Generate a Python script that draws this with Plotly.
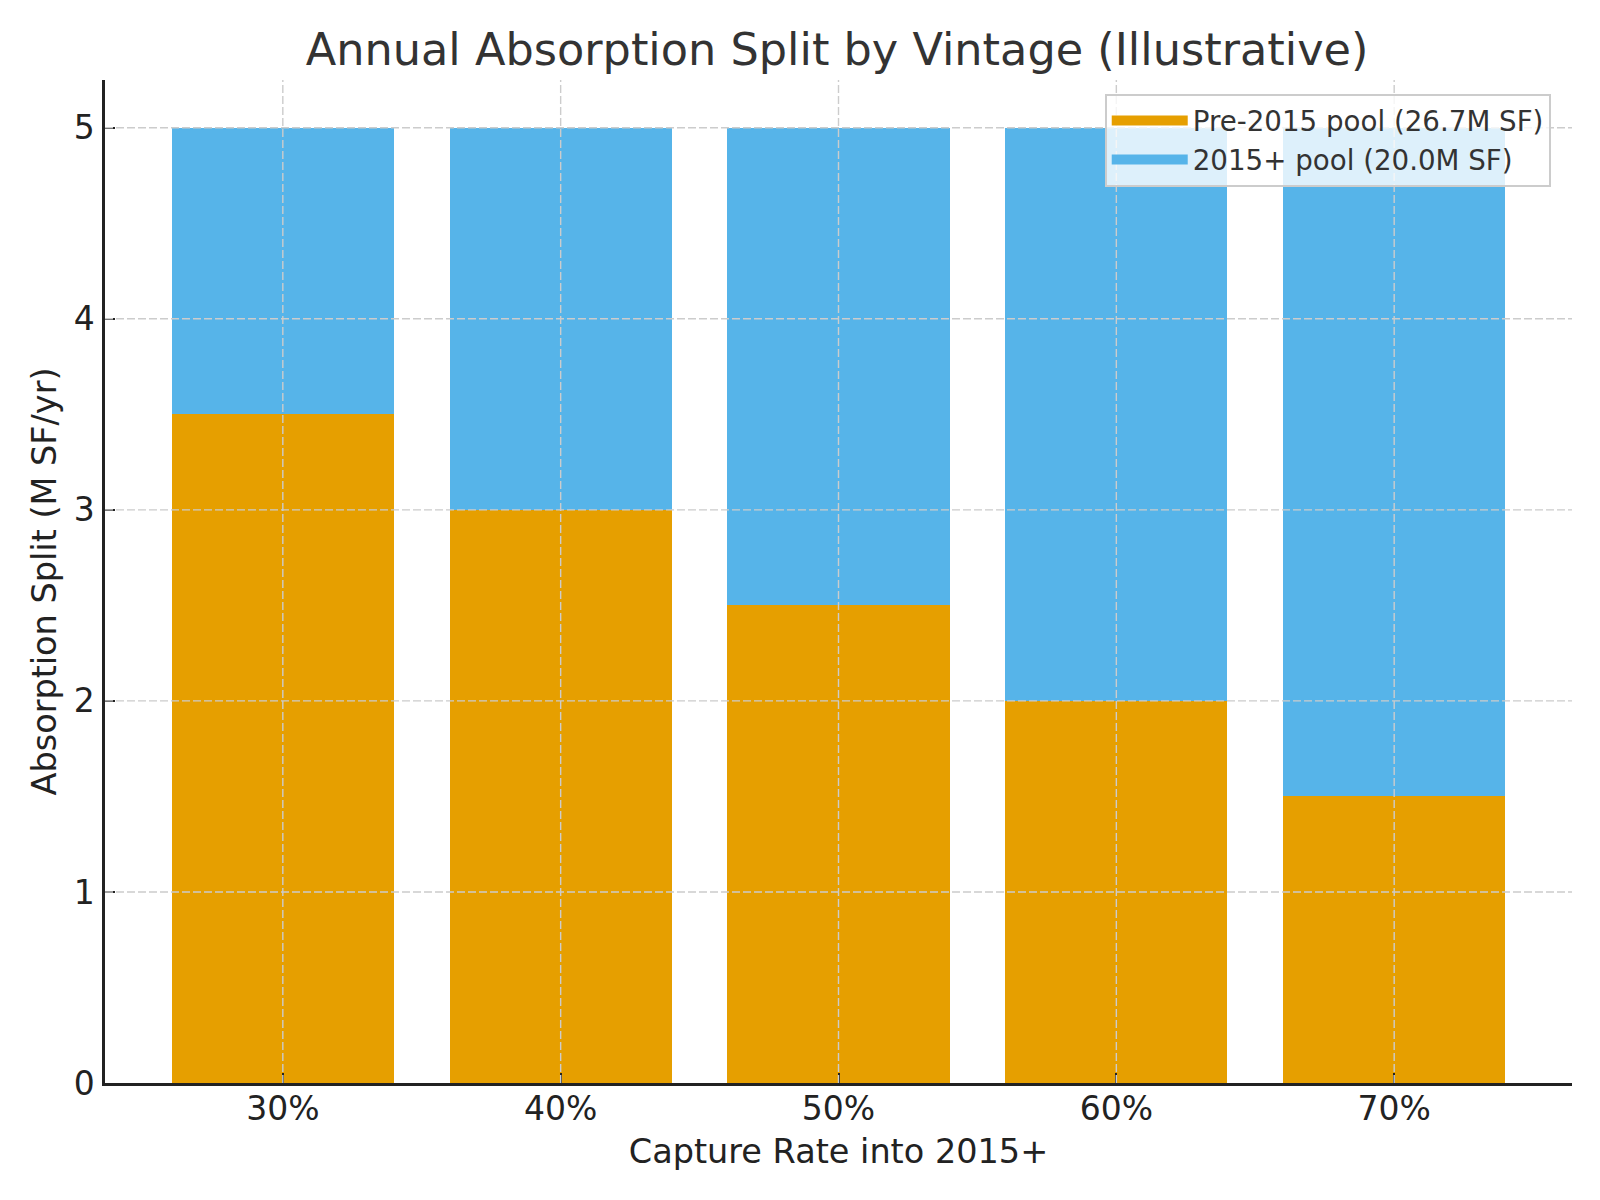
import plotly.graph_objects as go

categories = ["30%", "40%", "50%", "60%", "70%"]
pre2015 = [3.5, 3.0, 2.5, 2.0, 1.5]
post2015 = [1.5, 2.0, 2.5, 3.0, 3.5]
y_ticks = [0, 1, 2, 3, 4, 5]
series_names = ["Pre-2015 pool (26.7M SF)", "2015+ pool (20.0M SF)"]
series_colors = ["#E69F00", "#56B4E9"]

FONT = "DejaVu Sans"
GRID = dict(color="#cccccc", width=1.4, dash="8px,3px")

fig = go.Figure()
for vals, name, color in zip([pre2015, post2015], series_names, series_colors):
    fig.add_trace(go.Bar(x=categories, y=vals, name=name, showlegend=False,
                         marker=dict(color=color, line=dict(width=0)), width=0.8))
# legend entries with wide patches (matplotlib-style)
for i, (name, color) in enumerate(zip(series_names, series_colors)):
    fig.add_trace(go.Scatter(x=[None], y=[None], mode="lines", name=name,
                             legendgroup=str(i), line=dict(color=color, width=20)))

# grid drawn above the bars, as in the reference
for c in categories:
    fig.add_shape(type="line", xref="x", yref="paper", x0=c, x1=c, y0=0, y1=1,
                  line=GRID, layer="above")
for t in y_ticks[1:]:
    fig.add_shape(type="line", xref="paper", yref="y", x0=0, x1=1, y0=t, y1=t,
                  line=GRID, layer="above")

fig.update_layout(
    width=1584, height=1184,
    barmode="stack",
    plot_bgcolor="white", paper_bgcolor="white",
    margin=dict(l=97, r=20, t=72, b=109, autoexpand=False),
    font=dict(family=FONT, color="#222222"),
    title=dict(text="Annual Absorption Split by Vintage (Illustrative)",
               x=0.5234, xanchor="center", y=0.9654, yanchor="middle",
               font=dict(size=44.6, family=FONT, color="#333333")),
    legend=dict(x=0.9855, xanchor="right", y=0.986, yanchor="top",
                bgcolor="rgba(255,255,255,0.8)", bordercolor="#cccccc", borderwidth=2,
                font=dict(size=27.7, family=FONT, color="#333333"),
                itemwidth=76, tracegroupgap=3,
                traceorder="normal"),
    xaxis=dict(
        type="category", range=[-0.64, 4.64], automargin=False,
        showline=True, linecolor="#222222", linewidth=2.5,
        ticks="inside", ticklen=10, tickwidth=2, tickcolor="#222222",
        ticklabelstandoff=-5,
        tickfont=dict(size=33, family=FONT, color="#222222"),
        showgrid=False,
        title=dict(text="Capture Rate into 2015+", font=dict(size=33.5, family=FONT, color="#222222"),
                   standoff=13),
        layer="above traces", mirror=False, zeroline=False,
    ),
    yaxis=dict(
        range=[0, 5.25], tickvals=y_ticks, automargin=False,
        showline=True, linecolor="#222222", linewidth=2.5,
        ticks="inside", ticklen=10, tickwidth=2, tickcolor="#222222",
        ticklabelstandoff=1,
        tickfont=dict(size=33, family=FONT, color="#222222"),
        showgrid=False,
        title=dict(text="Absorption Split (M SF/yr)", font=dict(size=33.5, family=FONT, color="#222222"),
                   standoff=7),
        layer="above traces", zeroline=False,
    ),
)

fig.write_html("out.html")
